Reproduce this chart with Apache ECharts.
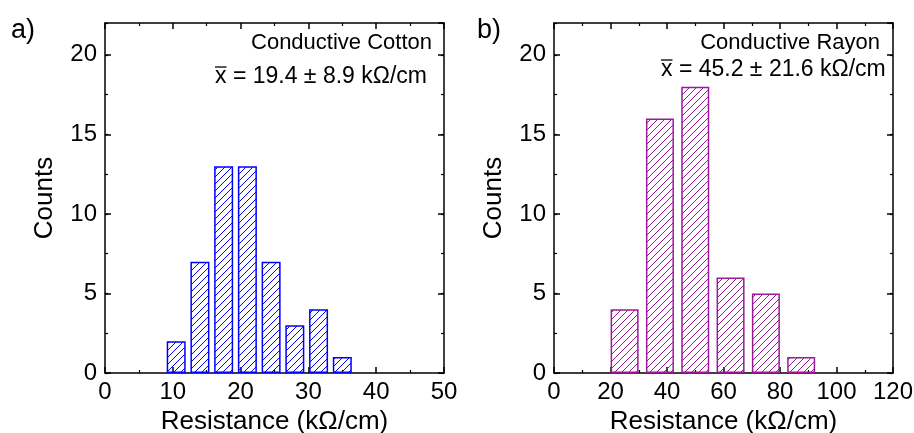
<!DOCTYPE html>
<html><head><meta charset="utf-8">
<script src="https://cdn.jsdelivr.net/npm/echarts@6/dist/echarts.min.js"></script>
<style>html,body{margin:0;padding:0;background:#fff}#c{width:914px;height:433px}</style>
</head><body><div id="c"></div>
<script>
// ---- data ----
const cottonBinCenters = [10.5, 14, 17.5, 21, 24.5, 28, 31.5, 35];
const cottonCounts     = [2, 7, 13, 13, 7, 3, 4, 1];
const rayonBinCenters  = [25, 37.5, 50, 62.5, 75, 87.5];
const rayonCounts      = [4, 16, 18, 6, 5, 1];
const cottonXTicks = {min: 0, max: 50, interval: 10};
const rayonXTicks  = {min: 0, max: 120, interval: 20};
const countTicks   = {min: 0, max: 22, interval: 5, minor: 2.5};
const panelLabels = ['a)', 'b)'];
const annotTitles = ['Conductive Cotton', 'Conductive Rayon'];
const annotStats  = ['x = 19.4 ± 8.9 kΩ/cm', 'x = 45.2 ± 21.6 kΩ/cm'];
const xTitle = 'Resistance (kΩ/cm)';
const yTitle = 'Counts';

const FONT = '"Liberation Sans", Arial, sans-serif';
const BLUE = '#0000ff';
const PURPLE = '#9a1a9a';

function hatch(color) {
  const s = 7;
  const c = document.createElement('canvas');
  c.width = s; c.height = s;
  const g = c.getContext('2d');
  g.strokeStyle = color; g.lineWidth = 1;
  g.beginPath();
  g.moveTo(0, s); g.lineTo(s, 0);
  g.moveTo(-1, 1); g.lineTo(1, -1);
  g.moveTo(s - 1, s + 1); g.lineTo(s + 1, s - 1);
  g.stroke();
  return c;
}

const grids = [
  {left: 105, top: 23, width: 339, height: 350, containLabel: false, outerBoundsMode: 'none'},
  {left: 554, top: 23, width: 339, height: 350, containLabel: false, outerBoundsMode: 'none'}
];
const xt = [cottonXTicks, rayonXTicks];

const axLine = {show: true, onZero: false, lineStyle: {color: '#000', width: 1.5}};
const xAxis = [], yAxis = [];
grids.forEach((g, i) => {
  const base = {gridIndex: i, type: 'value', min: xt[i].min, max: xt[i].max, interval: xt[i].interval,
    axisLine: axLine, splitLine: {show: false},
    axisTick: {show: true, inside: true, length: 6, lineStyle: {color: '#000', width: 1.5}},
    minorTick: {show: true, splitNumber: 2, length: 3, lineStyle: {color: '#000', width: 1.2}}};
  xAxis.push(Object.assign({}, base, {position: 'bottom',
    axisLabel: {fontFamily: FONT, fontSize: 24, color: '#000', margin: 7},
    name: xTitle, nameLocation: 'middle', nameGap: 34,
    nameTextStyle: {fontFamily: FONT, fontSize: 26, color: '#000'}}));
  xAxis.push(Object.assign({}, base, {position: 'top', axisLabel: {show: false}}));
});
grids.forEach((g, i) => {
  const major = {gridIndex: i, type: 'value', min: countTicks.min, max: countTicks.max, interval: countTicks.interval,
    axisLine: axLine, splitLine: {show: false},
    axisTick: {show: true, inside: true, length: 6, lineStyle: {color: '#000', width: 1.5}}};
  const minor = {gridIndex: i, type: 'value', min: countTicks.min, max: countTicks.max, interval: countTicks.minor,
    axisLine: {show: false, onZero: false}, splitLine: {show: false}, axisLabel: {show: false},
    axisTick: {show: true, inside: true, length: 3, lineStyle: {color: '#000', width: 1.2}}};
  yAxis.push(Object.assign({}, major, {position: 'left',
    axisLabel: {fontFamily: FONT, fontSize: 24, color: '#000', margin: 8, showMaxLabel: false},
    name: yTitle, nameLocation: 'middle', nameGap: 47, nameRotate: 90,
    nameTextStyle: {fontFamily: FONT, fontSize: 26, color: '#000'}}));
  yAxis.push(Object.assign({}, major, {position: 'right', axisLabel: {show: false}}));
  // position flips when side already used: 'right' -> left, 'left' -> right
  yAxis.push(Object.assign({}, minor, {position: 'right'}));
  yAxis.push(Object.assign({}, minor, {position: 'left'}));
});

const series = [
  {type: 'bar', xAxisIndex: 0, yAxisIndex: 0, barWidth: 19,
   data: cottonBinCenters.map((c, k) => [c, cottonCounts[k]]),
   itemStyle: {color: {image: hatch(BLUE), repeat: 'repeat'}, borderColor: BLUE, borderWidth: 1.5},
   emphasis: {disabled: true}, silent: true},
  {type: 'bar', xAxisIndex: 2, yAxisIndex: 4, barWidth: 28,
   data: rayonBinCenters.map((c, k) => [c, rayonCounts[k]]),
   itemStyle: {color: {image: hatch(PURPLE), repeat: 'repeat'}, borderColor: PURPLE, borderWidth: 1.5},
   emphasis: {disabled: true}, silent: true}
];

const txt = (x, y, text, size, align) => ({type: 'text', x, y,
  style: {text, fontFamily: FONT, fontSize: size, fill: '#000', align: align || 'left', verticalAlign: 'middle'}});
const graphic = [
  txt(11, 31, panelLabels[0], 27),
  txt(477, 31, panelLabels[1], 27),
  txt(432, 43, annotTitles[0], 22, 'right'),
  txt(215, 77, annotStats[0], 23),
  {type: 'line', shape: {x1: 215, y1: 67, x2: 226.5, y2: 67}, style: {stroke: '#000', lineWidth: 1.3}},
  txt(880, 43, annotTitles[1], 22, 'right'),
  txt(661, 70, annotStats[1], 23),
  {type: 'line', shape: {x1: 661, y1: 60, x2: 672.5, y2: 60}, style: {stroke: '#000', lineWidth: 1.3}}
];

const chart = echarts.init(document.getElementById('c'), null, {renderer: 'canvas'});
chart.setOption({animation: false, grid: grids, xAxis, yAxis, series, graphic});
</script></body></html>
